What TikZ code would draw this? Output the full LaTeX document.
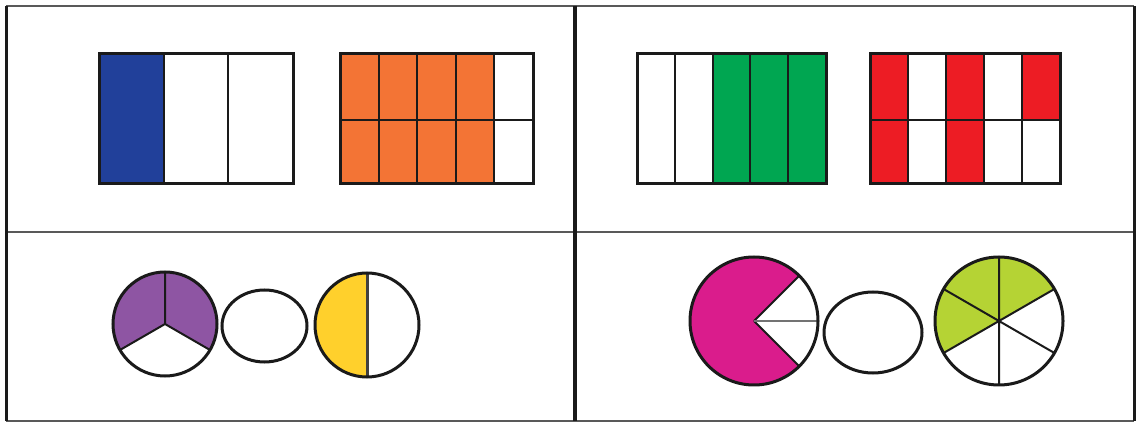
\documentclass[tikz,border=0pt]{standalone}
\usepackage{xcolor}
\definecolor{cblue}{HTML}{21409A}
\definecolor{corange}{HTML}{F37435}
\definecolor{cgreen}{HTML}{00A651}
\definecolor{cred}{HTML}{ED1C24}
\definecolor{cpurple}{HTML}{8E55A3}
\definecolor{cyellow}{HTML}{FFD02C}
\definecolor{cmagenta}{HTML}{DA1C8C}
\definecolor{clime}{HTML}{B5D334}
\definecolor{cline}{HTML}{1A1A1A}
\begin{document}
\begin{tikzpicture}[x=1pt,y=1pt,
  frameline/.style={draw=cline,line width=3pt},
  hframe/.style={draw=black!65,line width=2.5pt},
  boxline/.style={draw=cline,line width=3pt},
  cellline/.style={draw=cline,line width=2pt},
  ring/.style={draw=cline,line width=3pt},
  spoke/.style={draw=cline,line width=2pt}]
\useasboundingbox (0,0) rectangle (1138,423);
% frame
\draw[hframe] (6,417) -- (1134,417);
\draw[hframe] (6,2) -- (1134,2);
\draw[hframe] (6,191) -- (1134,191);
\draw[frameline] (6,2) -- (6,417);
\draw[frameline] (1134,2) -- (1134,417);
\draw[draw=cline,line width=4pt] (575,2) -- (575,417);
% blue box
\fill[cblue] (99,239) rectangle (164,369);
\draw[cellline] (164,239) -- (164,369) (228,239) -- (228,369);
\draw[boxline] (99,239) rectangle (293,369);
% orange box
\fill[corange] (340,239) rectangle (494.4,369);
\draw[cellline] (378.6,239) -- (378.6,369) (417.2,239) -- (417.2,369)
  (455.8,239) -- (455.8,369) (494.4,239) -- (494.4,369)
  (340,303) -- (533,303);
\draw[boxline] (340,239) rectangle (533,369);
% green box
\fill[cgreen] (712.6,239) rectangle (826,369);
\draw[cellline] (674.8,239) -- (674.8,369) (712.6,239) -- (712.6,369)
  (750.4,239) -- (750.4,369) (788.2,239) -- (788.2,369);
\draw[boxline] (637,239) rectangle (826,369);
% red box
\fill[cred] (870,303) rectangle (908,369) (946,303) rectangle (984,369)
  (1022,303) rectangle (1060,369)
  (870,239) rectangle (908,303) (946,239) rectangle (984,303);
\draw[cellline] (908,239) -- (908,369) (946,239) -- (946,369)
  (984,239) -- (984,369) (1022,239) -- (1022,369)
  (870,303) -- (1060,303);
\draw[boxline] (870,239) rectangle (1060,369);
% purple pie (2/3)
\coordinate (pc) at (165,99);
\fill[cpurple] (pc) -- ++(-30:52) arc[start angle=-30,end angle=210,radius=52] -- cycle;
\draw[spoke] (pc) -- ++(90:52) (pc) -- ++(210:52) (pc) -- ++(330:52);
\draw[ring] (pc) circle[radius=52];
% empty ellipse 1
\draw[ring] (264.5,97) ellipse[x radius=42.5,y radius=36];
% yellow pie (1/2)
\coordinate (yc) at (367,98);
\fill[cyellow] (yc) -- ++(90:52) arc[start angle=90,end angle=270,radius=52] -- cycle;
\draw[draw=black!75,line width=3pt] (yc) ++(0,52) -- ++(0,-104);
\draw[ring] (yc) circle[radius=52];
% magenta pie (6/8)
\coordinate (mc) at (754,102);
\fill[cmagenta] (mc) -- ++(45:64) arc[start angle=45,end angle=315,radius=64] -- cycle;
\draw[spoke] (mc) -- ++(45:64) (mc) -- ++(-45:64);
\draw[draw=black!55,line width=2pt] (mc) -- ++(0:64);
\draw[ring] (mc) circle[radius=64];
% empty ellipse 2
\draw[ring] (873,90.5) ellipse[x radius=49,y radius=40.5];
% lime pie (3/6)
\coordinate (lc) at (999,102);
\fill[clime] (lc) -- ++(30:64) arc[start angle=30,end angle=210,radius=64] -- cycle;
\draw[spoke] (lc) -- ++(30:64) (lc) -- ++(90:64) (lc) -- ++(150:64)
  (lc) -- ++(210:64) (lc) -- ++(270:64) (lc) -- ++(330:64);
\draw[ring] (lc) circle[radius=64];
\end{tikzpicture}
\end{document}
